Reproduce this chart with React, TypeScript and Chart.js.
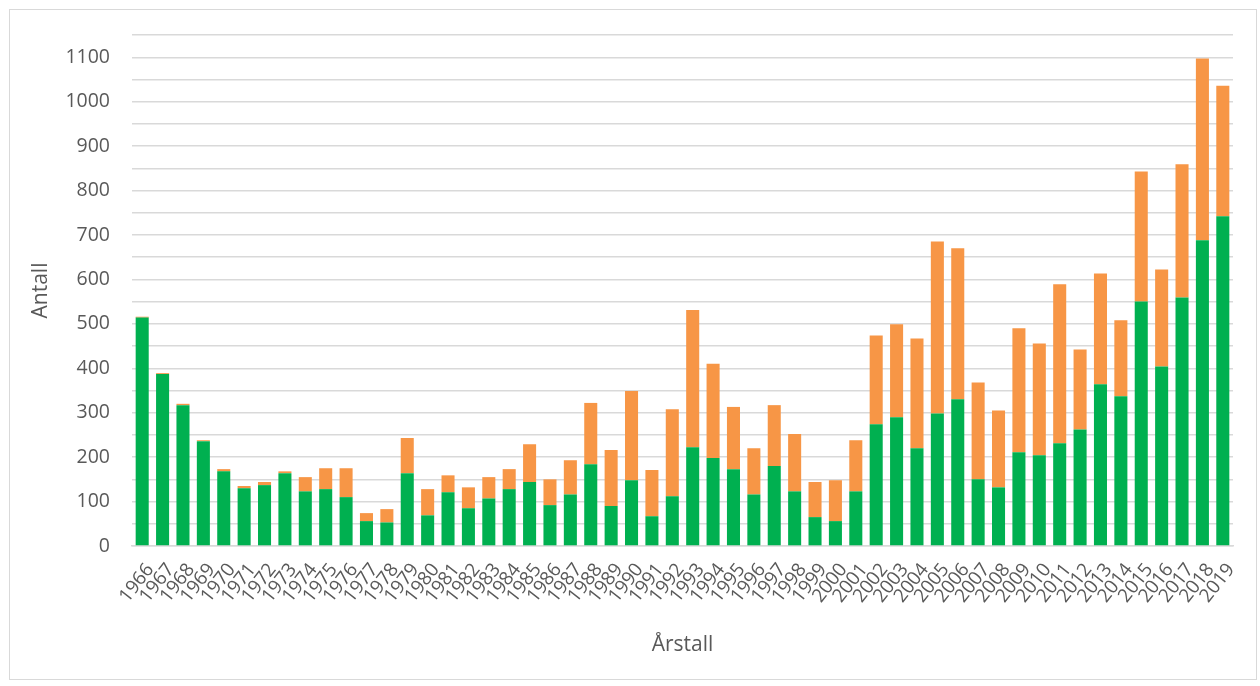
import React, { useEffect, useRef } from "react";
import { Chart, registerables } from "chart.js";

Chart.register(...registerables);

const years: string[] = [
  "1966", "1967", "1968", "1969", "1970", "1971", "1972", "1973", "1974", "1975",
  "1976", "1977", "1978", "1979", "1980", "1981", "1982", "1983", "1984", "1985",
  "1986", "1987", "1988", "1989", "1990", "1991", "1992", "1993", "1994", "1995",
  "1996", "1997", "1998", "1999", "2000", "2001", "2002", "2003", "2004", "2005",
  "2006", "2007", "2008", "2009", "2010", "2011", "2012", "2013", "2014", "2015",
  "2016", "2017", "2018", "2019",
];

const greenValues: number[] = [
  514, 387, 317, 236, 168, 130, 137, 164, 123, 128,
  110, 56, 53, 164, 69, 121, 85, 107, 128, 144,
  92, 116, 184, 90, 148, 67, 112, 222, 198, 173,
  116, 180, 123, 65, 56, 123, 274, 290, 220, 298,
  330, 150, 132, 211, 204, 231, 262, 364, 337, 550,
  404, 559, 688, 742,
];

const orangeValues: number[] = [
  2, 2, 3, 2, 5, 5, 7, 4, 32, 47,
  65, 18, 30, 79, 59, 38, 47, 48, 45, 85,
  58, 77, 138, 126, 201, 104, 196, 309, 212, 140,
  104, 137, 129, 79, 92, 115, 200, 209, 247, 387,
  340, 218, 173, 279, 252, 358, 180, 249, 171, 293,
  218, 300, 409, 294,
];

const yTitle = "Antall";
const xTitle = "Årstall";

const borderPlugin = {
  id: "outerBorder",
  beforeDraw(chart: any) {
    const ctx = chart.ctx;
    ctx.save();
    ctx.fillStyle = "#ffffff";
    ctx.fillRect(0, 0, chart.width, chart.height);
    ctx.strokeStyle = "#d9d9d9";
    ctx.lineWidth = 1;
    ctx.strokeRect(9.5, 9.5, 1247, 670);
    ctx.restore();
  },
};

export default function App() {
  const ref = useRef<HTMLCanvasElement | null>(null);

  useEffect(() => {
    if (!ref.current) return;
    const font = "'Open Sans', 'DejaVu Sans', sans-serif";
    const chart = new Chart(ref.current, {
      type: "bar",
      data: {
        labels: years,
        datasets: [
          {
            label: "Serie 1",
            data: greenValues,
            backgroundColor: "#00b050",
            categoryPercentage: 1,
            barPercentage: 0.64,
          },
          {
            label: "Serie 2",
            data: orangeValues,
            backgroundColor: "#f79646",
            categoryPercentage: 1,
            barPercentage: 0.64,
          },
        ],
      },
      options: {
        responsive: false,
        animation: false,
        layout: { padding: { left: 22, top: 35, right: 27, bottom: 26 } },
        plugins: {
          legend: { display: false },
          tooltip: { enabled: false },
        },
        scales: {
          x: {
            stacked: true,
            grid: { display: false, drawTicks: false },
            border: { display: true, color: "#d9d9d9", width: 1.5 },
            ticks: {
              autoSkip: false,
              minRotation: 52,
              maxRotation: 52,
              padding: 13,
              labelOffset: 8,
              color: "#595959",
              font: { family: font, size: 19 },
            },
            title: {
              display: true,
              text: xTitle,
              color: "#595959",
              font: { family: font, size: 21 },
              padding: { top: 0, bottom: 2 },
            },
            afterFit(scale: any) {
              scale.height = 114;
            },
          },
          y: {
            stacked: true,
            min: 0,
            max: 1150,
            grid: { color: "#d9d9d9", lineWidth: 1.4, drawTicks: false },
            border: { display: false },
            ticks: {
              autoSkip: false,
              stepSize: 50,
              padding: 22,
              color: "#595959",
              font: { family: font, size: 19.5 },
              callback: (v: any) => (Number(v) % 100 === 0 ? String(v) : ""),
            },
            title: {
              display: true,
              text: yTitle,
              color: "#595959",
              font: { family: font, size: 21 },
              padding: { top: 6, bottom: 0 },
            },
            afterFit(scale: any) {
              scale.width = 110;
            },
          },
        },
      },
      plugins: [borderPlugin],
    });
    return () => chart.destroy();
  }, []);

  return (
    <div style={{ position: "fixed", left: 0, top: 0, width: 1260, height: 686, background: "#fff" }}>
      <canvas ref={ref} width={1260} height={686} style={{ display: "block" }} />
    </div>
  );
}
